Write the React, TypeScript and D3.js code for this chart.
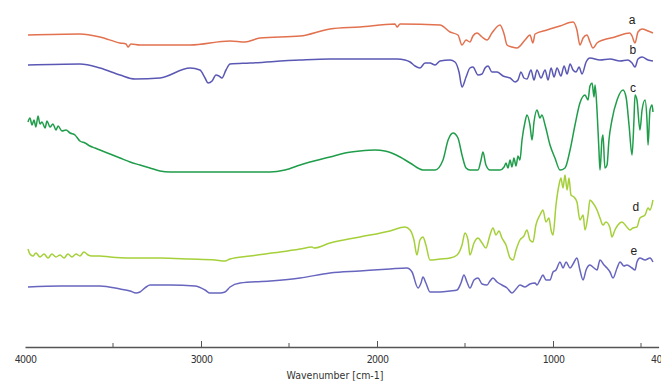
import * as d3 from "d3";
import React, { useEffect, useRef } from "react";

// wavenumber (cm-1), transmittance offset (a.u.)
const traceA: [number, number][] = [
  [3983, 312], [3688, 313], [3574, 310], [3460, 304], [3426, 303], [3415, 300], [3398, 303],
  [3347, 302], [3062, 302], [2835, 306], [2750, 305], [2665, 309], [2437, 311], [2267, 318],
  [2097, 320], [1898, 323], [1886, 320], [1869, 323], [1642, 322], [1585, 315], [1540, 312],
  [1517, 302], [1494, 307], [1472, 305], [1455, 311], [1432, 314], [1403, 310], [1375, 307],
  [1347, 314], [1301, 322], [1278, 313], [1261, 302], [1233, 300], [1205, 299], [1159, 307],
  [1131, 312], [1114, 304], [1102, 313], [1034, 317], [960, 321], [886, 325], [864, 317],
  [847, 302], [829, 309], [807, 312], [790, 305], [773, 299], [750, 304], [716, 307],
  [648, 310], [563, 314], [551, 311], [534, 304], [517, 315], [494, 318], [460, 316], [432, 314],
];

const traceB: [number, number][] = [
  [3983, 282], [3688, 283], [3574, 279], [3460, 272], [3375, 268], [3233, 269], [3062, 279],
  [3006, 277], [2977, 269], [2960, 264], [2937, 266], [2915, 272], [2898, 271], [2881, 269],
  [2858, 277], [2835, 283], [2722, 284], [2437, 287], [2267, 288], [1886, 288], [1841, 287],
  [1812, 285], [1784, 281], [1756, 279], [1727, 284], [1699, 284], [1670, 282], [1642, 286],
  [1585, 287], [1557, 285], [1534, 275], [1517, 260], [1494, 270], [1472, 279], [1455, 280],
  [1426, 272], [1403, 273], [1386, 279], [1369, 281], [1347, 275], [1318, 275], [1284, 271],
  [1244, 269], [1216, 265], [1199, 267], [1182, 275], [1165, 269], [1148, 268], [1125, 277],
  [1108, 267], [1091, 277], [1068, 269], [1045, 277], [1028, 267], [1011, 279], [994, 270],
  [977, 279], [955, 271], [937, 281], [920, 273], [903, 283], [886, 277], [869, 275],
  [852, 280], [835, 273], [812, 285], [790, 289], [733, 287], [676, 288], [619, 286],
  [574, 287], [551, 284], [534, 280], [517, 288], [494, 290], [460, 287], [432, 286],
];

const traceC: [number, number][] = [
  [3983, 225], [3972, 229], [3960, 222], [3949, 227], [3938, 220], [3926, 231], [3915, 223],
  [3903, 225], [3886, 219], [3875, 226], [3858, 220], [3841, 223], [3824, 217], [3812, 221],
  [3790, 216], [3767, 217], [3744, 214], [3716, 212], [3688, 206], [3659, 204], [3631, 201],
  [3602, 199], [3574, 197], [3517, 193], [3460, 189], [3403, 185], [3347, 182], [3290, 179],
  [3233, 176], [3176, 175], [2608, 175], [2523, 177], [2437, 182], [2381, 185], [2267, 190],
  [2182, 194], [2097, 196], [2011, 197], [1955, 196], [1869, 190], [1812, 184], [1739, 177],
  [1670, 177], [1625, 187], [1596, 207], [1568, 214], [1540, 209], [1517, 192], [1494, 179],
  [1472, 177], [1426, 177], [1409, 187], [1398, 195], [1381, 182], [1358, 177], [1301, 177],
  [1278, 180], [1267, 184], [1256, 179], [1244, 187], [1233, 180], [1222, 189], [1210, 181],
  [1199, 191], [1188, 187], [1176, 207], [1159, 225], [1148, 232], [1131, 222], [1119, 207],
  [1108, 225], [1091, 237], [1074, 229], [1063, 232], [1045, 222], [1017, 202], [989, 189],
  [960, 177], [932, 179], [903, 197], [875, 222], [847, 244], [818, 252], [801, 247],
  [790, 261], [778, 264], [767, 250], [761, 262], [750, 237], [739, 197], [733, 177],
  [722, 207], [716, 212], [705, 179], [693, 182], [682, 207], [665, 227], [636, 247],
  [602, 257], [585, 250], [568, 222], [551, 192], [540, 227], [534, 252], [523, 247],
  [506, 217], [494, 237], [477, 247], [466, 227], [460, 202], [449, 237], [437, 242], [432, 235],
];

const traceD: [number, number][] = [
  [3983, 98], [3972, 93], [3955, 91], [3938, 94], [3915, 90], [3892, 93], [3869, 89],
  [3847, 93], [3824, 90], [3801, 92], [3778, 89], [3756, 93], [3733, 90], [3710, 93],
  [3688, 91], [3665, 95], [3642, 92], [3619, 91], [3574, 91], [3517, 90], [3403, 89],
  [3233, 89], [3062, 88], [2920, 87], [2864, 86], [2835, 88], [2722, 91], [2551, 95],
  [2437, 98], [2369, 100], [2358, 99], [2267, 104], [2097, 110], [1926, 116], [1841, 120],
  [1812, 117], [1790, 107], [1773, 92], [1756, 107], [1739, 110], [1722, 102], [1699, 87],
  [1642, 88], [1585, 89], [1545, 92], [1517, 102], [1500, 114], [1483, 107], [1472, 92],
  [1449, 104], [1426, 109], [1403, 104], [1381, 99], [1358, 112], [1341, 119], [1324, 112],
  [1307, 116], [1290, 109], [1267, 102], [1244, 89], [1227, 87], [1210, 97], [1188, 107],
  [1165, 111], [1148, 117], [1131, 107], [1114, 105], [1097, 122], [1074, 132], [1057, 137],
  [1040, 125], [1023, 129], [1011, 117], [1000, 112], [983, 142], [966, 162], [955, 169],
  [943, 159], [932, 172], [920, 157], [909, 169], [898, 152], [881, 150], [864, 145],
  [847, 127], [829, 132], [818, 117], [801, 132], [790, 147], [773, 144], [750, 137],
  [733, 129], [716, 122], [699, 125], [676, 119], [665, 110], [648, 117], [631, 122],
  [608, 125], [585, 121], [563, 117], [546, 119], [523, 120], [506, 129], [477, 132],
  [460, 139], [449, 137], [432, 147],
];

const traceE: [number, number][] = [
  [3983, 60], [3801, 61], [3574, 61], [3460, 58], [3403, 56], [3369, 54], [3347, 55],
  [3312, 60], [3290, 62], [3176, 62], [3034, 61], [2977, 57], [2949, 54], [2892, 54],
  [2864, 55], [2835, 60], [2778, 64], [2608, 66], [2437, 69], [2267, 74], [2097, 76],
  [1926, 78], [1830, 79], [1801, 75], [1767, 59], [1750, 64], [1739, 70], [1722, 64],
  [1699, 55], [1642, 55], [1585, 56], [1545, 57], [1523, 64], [1506, 72], [1489, 65],
  [1472, 59], [1449, 67], [1426, 69], [1403, 63], [1375, 62], [1358, 66], [1341, 69],
  [1318, 65], [1290, 62], [1261, 59], [1233, 54], [1210, 58], [1188, 62], [1159, 60],
  [1131, 63], [1102, 64], [1091, 62], [1074, 67], [1057, 72], [1040, 67], [1017, 67],
  [1000, 75], [983, 77], [960, 85], [943, 79], [926, 85], [903, 79], [886, 83],
  [864, 89], [847, 77], [829, 67], [812, 77], [790, 82], [767, 79], [750, 77],
  [733, 87], [710, 82], [693, 79], [676, 75], [659, 69], [636, 79], [619, 85],
  [597, 81], [580, 82], [551, 79], [534, 77], [523, 85], [506, 89], [477, 87],
  [449, 89], [432, 85],
];

const traceNames = ["a", "b", "c", "d", "e"];
const traceColors = ["#e2714f", "#5a58b4", "#1f9d4a", "#a5d03a", "#6765be"];
const traces = [traceA, traceB, traceC, traceD, traceE];
// where each letter sits (wavenumber, a.u.)
const labelPos: [number, number][] = [[551, 323], [546, 293], [546, 255], [529, 136], [540, 92]];

const majorTicks = [4000, 3000, 2000, 1000, 400];
const minorTicks = [3500, 2500, 1500, 500];

const App: React.FC = () => {
  const ref = useRef<SVGSVGElement>(null);

  useEffect(() => {
    const width = 661;
    const height = 383;
    const axisY = 347;

    const x = d3.scaleLinear().domain([4000, 400]).range([25, 658.6]);
    const y = d3.scaleLinear().domain([0, 340]).range([axisY, 7]);

    const svg = d3.select(ref.current!);
    svg.selectAll("*").remove();

    svg.append("rect").attr("width", width).attr("height", height).attr("fill", "#fff");

    const line = d3.line<[number, number]>()
      .x(d => x(d[0]))
      .y(d => y(d[1]))
      .curve(d3.curveMonotoneX);

    svg.append("g")
      .selectAll("path")
      .data(traces)
      .join("path")
      .attr("fill", "none")
      .attr("stroke", (_, i) => traceColors[i])
      .attr("stroke-width", 1.5)
      .attr("stroke-linejoin", "round")
      .attr("d", d => line(d));

    svg.append("g")
      .selectAll("text")
      .data(traceNames)
      .join("text")
      .attr("x", (_, i) => x(labelPos[i][0]))
      .attr("y", (_, i) => y(labelPos[i][1]))
      .attr("text-anchor", "middle")
      .attr("font-family", "Liberation Sans, Arial, sans-serif")
      .attr("font-size", 12)
      .attr("fill", "#222")
      .text(d => d);

    const axis = svg.append("g")
      .attr("transform", `translate(0,${axisY})`)
      .call(d3.axisBottom(x).tickValues(majorTicks).tickSize(-6).tickSizeOuter(0).tickPadding(9).tickFormat(d3.format("d")));

    axis.select(".domain").attr("stroke", "#555").attr("stroke-width", 1.3);
    axis.selectAll(".tick line")
      .attr("stroke", "#555")
      .attr("opacity", d => (d === 4000 || d === 400 ? 0 : 1));
    axis.selectAll(".tick text")
      .attr("font-family", "DejaVu Sans Condensed, Liberation Sans Narrow, sans-serif")
      .attr("font-size", 10.5)
      .attr("letter-spacing", -0.6)
      .attr("fill", "#333");

    axis.append("g")
      .selectAll("line")
      .data(minorTicks)
      .join("line")
      .attr("x1", d => x(d))
      .attr("x2", d => x(d))
      .attr("y1", 0)
      .attr("y2", -4)
      .attr("stroke", "#555");

    svg.append("text")
      .attr("x", 335)
      .attr("y", 379)
      .attr("text-anchor", "middle")
      .attr("font-family", "DejaVu Sans Condensed, Liberation Sans Narrow, sans-serif")
      .attr("font-size", 10.5)
      .attr("fill", "#333")
      .text("Wavenumber [cm-1]");
  }, []);

  return (
    <svg
      ref={ref}
      width={661}
      height={383}
      style={{ position: "fixed", left: 0, top: 0, display: "block" }}
    />
  );
};

export default App;
